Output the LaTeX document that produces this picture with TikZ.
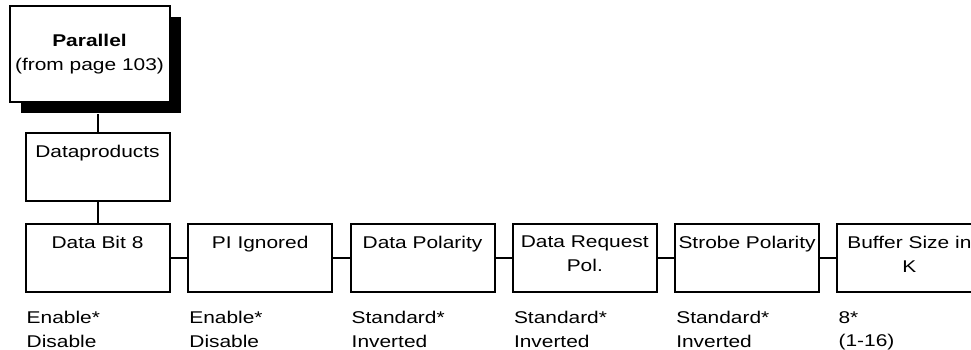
\documentclass[tikz,border=0pt]{standalone}
\usepackage{fontspec}
\setmainfont{Liberation Sans}[FakeStretch=1.23]
\usetikzlibrary{shadows}

\tikzset{
  menubox/.style={draw, line width=2pt, fill=white, inner sep=0pt,
    minimum width=144pt, minimum height=68pt, anchor=north west},
  boxtext/.style={inner sep=0pt, align=center, anchor=north,
    font=\fontsize{17}{24.5}\selectfont},
  choices/.style={inner sep=0pt, align=left, anchor=north west,
    font=\fontsize{17}{23.5}\selectfont},
  link/.style={line width=2pt}
}

\begin{document}
\begin{tikzpicture}[x=1pt, y=-1pt]

  \useasboundingbox (0,0) rectangle (971,350);

  % -- Top boxes --
  \node[menubox, minimum width=160pt, minimum height=96pt,
    drop shadow={shadow xshift=11pt, shadow yshift=-11pt, fill=black, opacity=1}] (par) at (8.5,5) {};
  \node[boxtext, anchor=center, font=\fontsize{17}{23.5}\selectfont] (partext) at (par.center)
    {\textbf{Parallel}\\(from page 103)};
  \node[menubox] (dp) at (24.5,132) {};
  \node[boxtext] (dptext) at ([yshift=-12.8pt]dp.north) {Dataproducts};
  \draw[link] (dp.north) -- ([yshift=-11pt]dp.north |- par.south);

  % -- Option boxes --
  \node[menubox] (bit) at (24.5,222.7) {};
  \node[menubox] (pi) at (187.2,222.7) {};
  \node[menubox] (dpol) at (349.5,222.7) {};
  \node[menubox] (dreq) at (511.8,222.7) {};
  \node[menubox] (spol) at (674.1,222.7) {};
  \node[menubox] (buf) at (836.4,222.7) {};

  \node[boxtext] (bittext) at ([yshift=-12.8pt]bit.north) {Data Bit 8};
  \node[boxtext] (pitext) at ([yshift=-12.8pt]pi.north) {PI Ignored};
  \node[boxtext] (dpoltext) at ([yshift=-12.8pt]dpol.north) {Data Polarity};
  \node[boxtext] (dreqtext) at ([yshift=-12.8pt]dreq.north) {Data Request\\Pol.};
  \node[boxtext] (spoltext) at ([yshift=-12.8pt]spol.north) {Strobe Polarity};
  \node[boxtext] (buftext) at ([yshift=-12.8pt]buf.north) {Buffer Size in\\K};

  % -- Connectors --
  \draw[link] (dp.south) -- (bit.north);
  \draw[link] (bit.east) -- (pi.west);
  \draw[link] (pi.east) -- (dpol.west);
  \draw[link] (dpol.east) -- (dreq.west);
  \draw[link] (dreq.east) -- (spol.west);
  \draw[link] (spol.east) -- (buf.west);

  % -- Values --
  \node[choices] (bitval) at ([xshift=2pt, yshift=-18.5pt]bit.south west) {Enable*\\Disable};
  \node[choices] (pival) at ([xshift=2pt, yshift=-18.5pt]pi.south west) {Enable*\\Disable};
  \node[choices] (dpolval) at ([xshift=2pt, yshift=-18.5pt]dpol.south west) {Standard*\\Inverted};
  \node[choices] (dreqval) at ([xshift=2pt, yshift=-18.5pt]dreq.south west) {Standard*\\Inverted};
  \node[choices] (spolval) at ([xshift=2pt, yshift=-18.5pt]spol.south west) {Standard*\\Inverted};
  \node[choices] (bufval) at ([xshift=2pt, yshift=-18.5pt]buf.south west) {8*\\(1-16)};

\end{tikzpicture}
\end{document}
